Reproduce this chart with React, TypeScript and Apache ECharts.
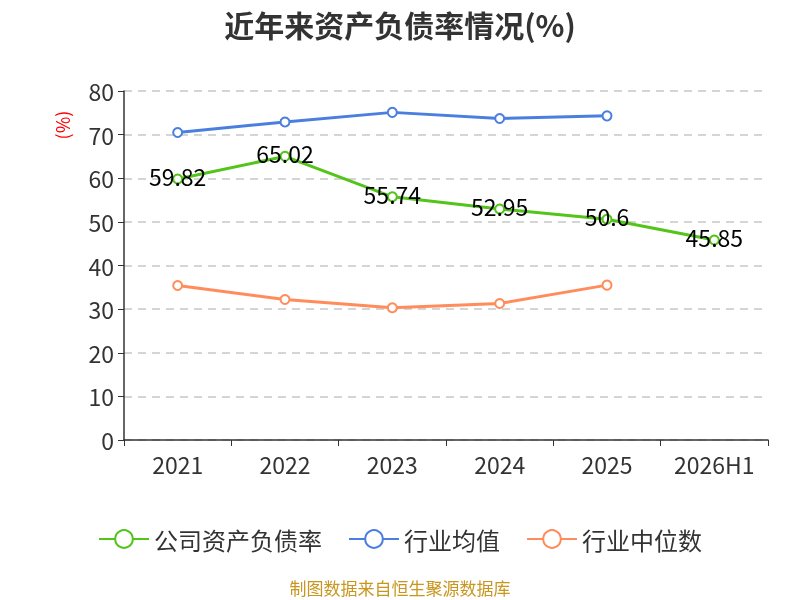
import React, { useEffect, useRef } from "react";
import * as echarts from "echarts";

const categories = ["2021", "2022", "2023", "2024", "2025", "2026H1"];
const companyRatio = [59.82, 65.02, 55.74, 52.95, 50.6, 45.85];
const industryAvg = [70.5, 72.9, 75.1, 73.7, 74.3, null];
const industryMedian = [35.4, 32.2, 30.3, 31.3, 35.5, null];

const FONT = "'Noto Sans CJK SC', 'Noto Sans', sans-serif";

export default function App() {
  const ref = useRef<HTMLDivElement>(null);
  useEffect(() => {
    if (!ref.current) return;
    const chart = echarts.init(ref.current, undefined, { renderer: "svg" });
    const lineSeries = (name: string, data: (number | null)[], color: string, label: boolean) => ({
      name,
      type: "line",
      data,
      symbol: "emptyCircle",
      symbolSize: 9,
      lineStyle: { width: 3, color },
      itemStyle: { color, borderWidth: 2 },
      label: label
        ? { show: true, position: "inside", offset: [0, -3], color: "#000", fontSize: 23, fontFamily: FONT }
        : { show: false },
    });
    chart.setOption({
      animation: false,
      textStyle: { fontFamily: FONT },
      title: {
        text: "近年来资产负债率情况(%)",
        left: "center",
        top: 4,
        textStyle: { fontSize: 30, fontWeight: "bold", color: "#333", fontFamily: FONT },
      },
      graphic: [
        {
          type: "text",
          x: 62,
          y: 125,
          rotation: Math.PI / 2,
          style: {
            text: "(%)",
            fill: "#ff0000",
            fontSize: 18,
            fontFamily: FONT,
            textAlign: "center",
            textVerticalAlign: "middle",
          },
        },
        {
          type: "text",
          x: 400,
          y: 587,
          style: {
            text: "制图数据来自恒生聚源数据库",
            fill: "#c8961e",
            fontSize: 17,
            fontFamily: FONT,
            textAlign: "center",
            textVerticalAlign: "middle",
          },
        },
      ],
      legend: {
        top: 522,
        left: "center",
        itemWidth: 50,
        itemHeight: 22,
        itemGap: 26,
        textStyle: { fontSize: 24, color: "#333", fontFamily: FONT },
        data: ["公司资产负债率", "行业均值", "行业中位数"],
      },
      grid: { left: 124, right: 32, top: 91, bottom: 160 },
      xAxis: {
        type: "category",
        data: categories,
        boundaryGap: true,
        axisLine: { lineStyle: { color: "#333", width: 1.5 } },
        axisTick: { show: true, length: 6, lineStyle: { color: "#333" } },
        axisLabel: { fontSize: 23, color: "#333", margin: 12, fontFamily: FONT },
      },
      yAxis: {
        type: "value",
        min: 0,
        max: 80,
        interval: 10,
        axisLine: { show: true, lineStyle: { color: "#333", width: 1.5 } },
        axisTick: { show: true, length: 6, lineStyle: { color: "#333" } },
        axisLabel: { fontSize: 23, color: "#333", margin: 10, fontFamily: FONT },
        splitLine: { show: true, lineStyle: { type: [8, 6], color: "#c8c8c8", width: 1.5 } },
      },
      series: [
        lineSeries("公司资产负债率", companyRatio, "#52c41a", true),
        lineSeries("行业均值", industryAvg, "#4a7fe0", false),
        lineSeries("行业中位数", industryMedian, "#ff8c5a", false),
      ],
    });
    return () => chart.dispose();
  }, []);
  return (
    <div
      ref={ref}
      style={{ position: "fixed", left: 0, top: 0, width: 800, height: 600 }}
    />
  );
}
